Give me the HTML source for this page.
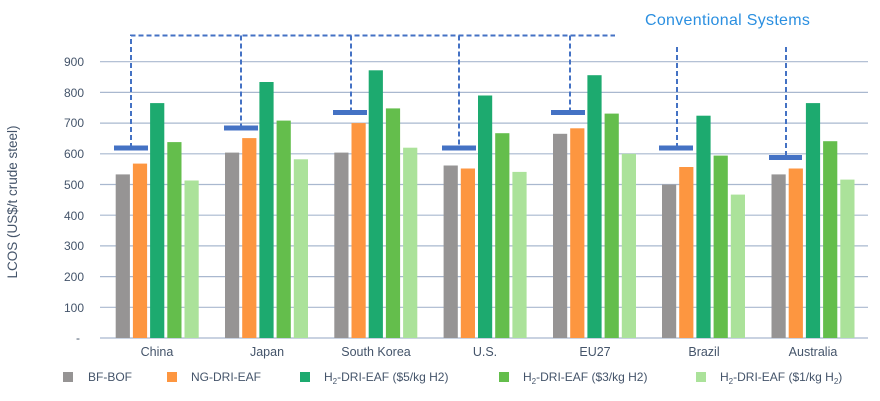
<!DOCTYPE html>
<html><head><meta charset="utf-8"><style>
body{margin:0;background:#fff;}
svg{display:block;font-family:"Liberation Sans",sans-serif;}
</style></head><body>
<svg width="880" height="401" viewBox="0 0 880 401">
<g stroke="#a9b8cf" stroke-width="1.2">
<line x1="100" x2="868" y1="61.7" y2="61.7"/><line x1="100" x2="868" y1="92.4" y2="92.4"/>
<line x1="100" x2="868" y1="123.1" y2="123.1"/><line x1="100" x2="868" y1="153.8" y2="153.8"/>
<line x1="100" x2="868" y1="184.5" y2="184.5"/><line x1="100" x2="868" y1="215.2" y2="215.2"/>
<line x1="100" x2="868" y1="245.9" y2="245.9"/><line x1="100" x2="868" y1="276.6" y2="276.6"/>
<line x1="100" x2="868" y1="307.3" y2="307.3"/><line x1="100" x2="868" y1="338" y2="338"/>
</g>
<g fill="#44546a" font-size="12" text-anchor="end">
<text x="84" y="66">900</text><text x="84" y="97">800</text><text x="84" y="127">700</text>
<text x="84" y="158">600</text><text x="84" y="189">500</text><text x="84" y="220">400</text>
<text x="84" y="250">300</text><text x="84" y="281">200</text><text x="84" y="312">100</text>
<text x="80" y="342">-</text>
</g>
<text transform="translate(17,202) rotate(-90)" text-anchor="middle" font-size="13.5" fill="#44546a">LCOS (US$/t crude steel)</text>
<g>
<rect x="115.7" y="174.4" width="14.2" height="163.6" fill="#969494"/>
<rect x="132.9" y="163.6" width="14.2" height="174.4" fill="#fd9640"/>
<rect x="150.1" y="103.1" width="14.2" height="234.9" fill="#1daa6f"/>
<rect x="167.3" y="142.1" width="14.2" height="195.9" fill="#64be4c"/>
<rect x="184.5" y="180.5" width="14.2" height="157.5" fill="#abe29a"/>

<rect x="225" y="152.6" width="14.2" height="185.4" fill="#969494"/>
<rect x="242.2" y="138.1" width="14.2" height="199.9" fill="#fd9640"/>
<rect x="259.4" y="82" width="14.2" height="256" fill="#1daa6f"/>
<rect x="276.6" y="120.6" width="14.2" height="217.4" fill="#64be4c"/>
<rect x="293.8" y="159.3" width="14.2" height="178.7" fill="#abe29a"/>

<rect x="334.3" y="152.6" width="14.2" height="185.4" fill="#969494"/>
<rect x="351.5" y="123.1" width="14.2" height="214.9" fill="#fd9640"/>
<rect x="368.7" y="70.3" width="14.2" height="267.7" fill="#1daa6f"/>
<rect x="385.9" y="108.4" width="14.2" height="229.6" fill="#64be4c"/>
<rect x="403.1" y="147.7" width="14.2" height="190.3" fill="#abe29a"/>

<rect x="443.6" y="165.5" width="14.2" height="172.5" fill="#969494"/>
<rect x="460.8" y="168.5" width="14.2" height="169.5" fill="#fd9640"/>
<rect x="478" y="95.5" width="14.2" height="242.5" fill="#1daa6f"/>
<rect x="495.2" y="133.2" width="14.2" height="204.8" fill="#64be4c"/>
<rect x="512.4" y="171.9" width="14.2" height="166.1" fill="#abe29a"/>

<rect x="553" y="133.8" width="14.2" height="204.2" fill="#969494"/>
<rect x="570.2" y="128.3" width="14.2" height="209.7" fill="#fd9640"/>
<rect x="587.4" y="75.2" width="14.2" height="262.8" fill="#1daa6f"/>
<rect x="604.6" y="113.6" width="14.2" height="224.4" fill="#64be4c"/>
<rect x="621.8" y="153.8" width="14.2" height="184.2" fill="#abe29a"/>

<rect x="662" y="184.5" width="14.2" height="153.5" fill="#969494"/>
<rect x="679.2" y="167" width="14.2" height="171" fill="#fd9640"/>
<rect x="696.4" y="115.7" width="14.2" height="222.3" fill="#1daa6f"/>
<rect x="713.6" y="155.6" width="14.2" height="182.4" fill="#64be4c"/>
<rect x="730.8" y="194.6" width="14.2" height="143.4" fill="#abe29a"/>

<rect x="771.5" y="174.4" width="14.2" height="163.6" fill="#969494"/>
<rect x="788.7" y="168.5" width="14.2" height="169.5" fill="#fd9640"/>
<rect x="805.9" y="103.1" width="14.2" height="234.9" fill="#1daa6f"/>
<rect x="823.1" y="141.2" width="14.2" height="196.8" fill="#64be4c"/>
<rect x="840.3" y="179.6" width="14.2" height="158.4" fill="#abe29a"/>
</g>
<g fill="#44546a" font-size="12.5" text-anchor="middle">
<text x="157" y="356">China</text><text x="267" y="356">Japan</text><text x="376" y="356">South Korea</text>
<text x="485" y="356">U.S.</text><text x="595" y="356">EU27</text><text x="704" y="356">Brazil</text><text x="813" y="356">Australia</text>
</g>
<g stroke="#4472c4" stroke-width="2" stroke-dasharray="5,3" fill="none">
<polyline points="131,148 131,35.5 615,35.5"/>
<line x1="241" y1="35.5" x2="241" y2="128"/>
<line x1="351" y1="35.5" x2="351" y2="112"/>
<line x1="459" y1="35.5" x2="459" y2="148"/>
<line x1="570" y1="35.5" x2="570" y2="112"/>
<line x1="677" y1="47" x2="677" y2="148"/>
<line x1="786" y1="47" x2="786" y2="157"/>
</g>
<g fill="#4472c4">
<rect x="114" y="145.5" width="34" height="5"/>
<rect x="224" y="125.5" width="34" height="5"/>
<rect x="333" y="110" width="34" height="5"/>
<rect x="442" y="145.5" width="34" height="5"/>
<rect x="551" y="110" width="34" height="5"/>
<rect x="659" y="145.5" width="34" height="5"/>
<rect x="769" y="155" width="33" height="5"/>
</g>
<text x="645" y="25" font-size="16" fill="#2b8fe0" letter-spacing="0.3">Conventional  Systems</text>
<g font-size="12" fill="#44546a">
<rect x="63" y="372" width="10" height="10" fill="#969494"/><text x="88" y="381">BF-BOF</text>
<rect x="167" y="372" width="10" height="10" fill="#fd9640"/><text x="191" y="381">NG-DRI-EAF</text>
<rect x="300" y="372" width="10" height="10" fill="#1daa6f"/><text x="324" y="381">H<tspan font-size="8" dy="3">2</tspan><tspan dy="-3">-DRI-EAF ($5/kg H2)</tspan></text>
<rect x="499" y="372" width="10" height="10" fill="#64be4c"/><text x="523" y="381">H<tspan font-size="8" dy="3">2</tspan><tspan dy="-3">-DRI-EAF ($3/kg H2)</tspan></text>
<rect x="696" y="372" width="10" height="10" fill="#abe29a"/><text x="720" y="381">H<tspan font-size="8" dy="3">2</tspan><tspan dy="-3">-DRI-EAF ($1/kg H</tspan><tspan font-size="8" dy="3">2</tspan><tspan dy="-3">)</tspan></text>
</g>
</svg>
</body></html>
